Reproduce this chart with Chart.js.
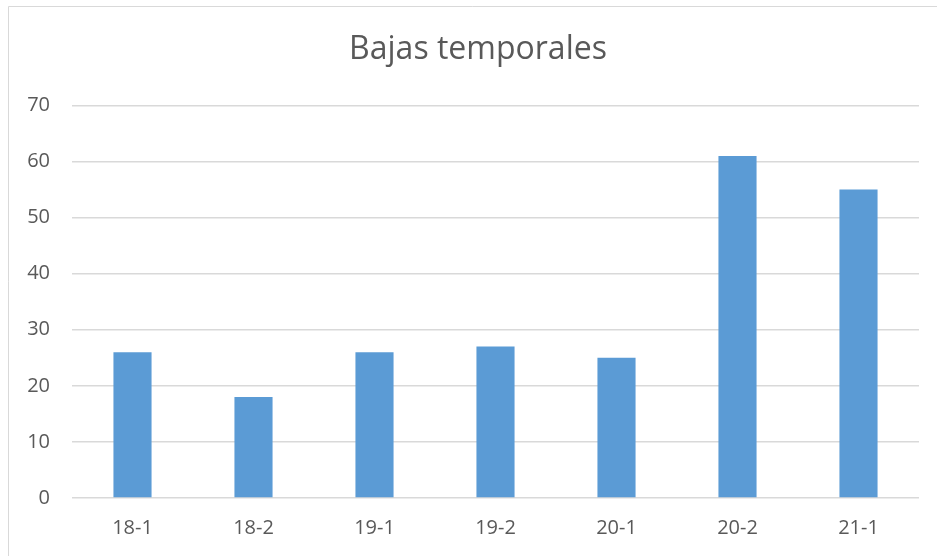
<!DOCTYPE html>
<html>
<head>
<meta charset="utf-8">
<script src="https://cdn.jsdelivr.net/npm/chart.js@4"></script>
<style>
  html, body { margin: 0; padding: 0; background: #fff; }
  #wrap { position: relative; width: 937px; height: 556px; }
</style>
</head>
<body>
<div id="wrap"><canvas id="c" width="937" height="556"></canvas></div>
<script>
const categories = ["18-1", "18-2", "19-1", "19-2", "20-1", "20-2", "21-1"];
const values = [26, 18, 26, 27, 25, 61, 55];
const chartTitle = "Bajas temporales";
const yMin = 0, yMax = 70, yStep = 10;

const borderPlugin = {
  id: 'outerBorder',
  beforeDraw(chart) {
    const ctx = chart.ctx;
    ctx.save();
    ctx.fillStyle = '#fff';
    ctx.fillRect(0, 0, chart.width, chart.height);
    ctx.strokeStyle = '#d9d9d9';
    ctx.lineWidth = 1;
    ctx.beginPath();
    ctx.moveTo(8.5, chart.height);
    ctx.lineTo(8.5, 6.5);
    ctx.lineTo(chart.width, 6.5);
    ctx.stroke();
    ctx.restore();
  }
};

new Chart(document.getElementById('c'), {
  type: 'bar',
  data: {
    labels: categories,
    datasets: [{
      data: values,
      backgroundColor: '#5B9BD5',
      borderWidth: 0,
      categoryPercentage: 1,
      barPercentage: 0.315,
      yAxisID: 'y'
    }]
  },
  options: {
    responsive: false,
    animation: false,
    layout: { padding: { left: 20, right: 1, top: 0, bottom: 0 } },
    plugins: {
      legend: { display: false },
      tooltip: { enabled: false },
      title: {
        display: true,
        text: chartTitle,
        color: '#595959',
        font: { family: 'Open Sans', size: 32, weight: 'normal' },
        padding: { top: 31, bottom: 36 }
      }
    },
    scales: {
      x: {
        grid: { display: false, drawTicks: false },
        border: { display: false },
        ticks: { color: '#595959', font: { family: 'Open Sans', size: 20 }, padding: 18, maxRotation: 0 },
        afterFit(scale) { scale.height = 58; }
      },
      y: {
        min: yMin, max: yMax,
        grid: { color: '#d9d9d9', lineWidth: 1.5, drawTicks: false },
        border: { display: false },
        ticks: { stepSize: yStep, color: '#595959', font: { family: 'Open Sans', size: 20 }, padding: 22 },
        afterFit(scale) { scale.width = 52; }
      },
      yRight: {
        position: 'right',
        min: yMin, max: yMax,
        grid: { display: false, drawTicks: false },
        border: { display: false },
        ticks: { display: false },
        afterFit(scale) { scale.width = 17; }
      }
    }
  },
  plugins: [borderPlugin]
});
</script>
</body>
</html>
